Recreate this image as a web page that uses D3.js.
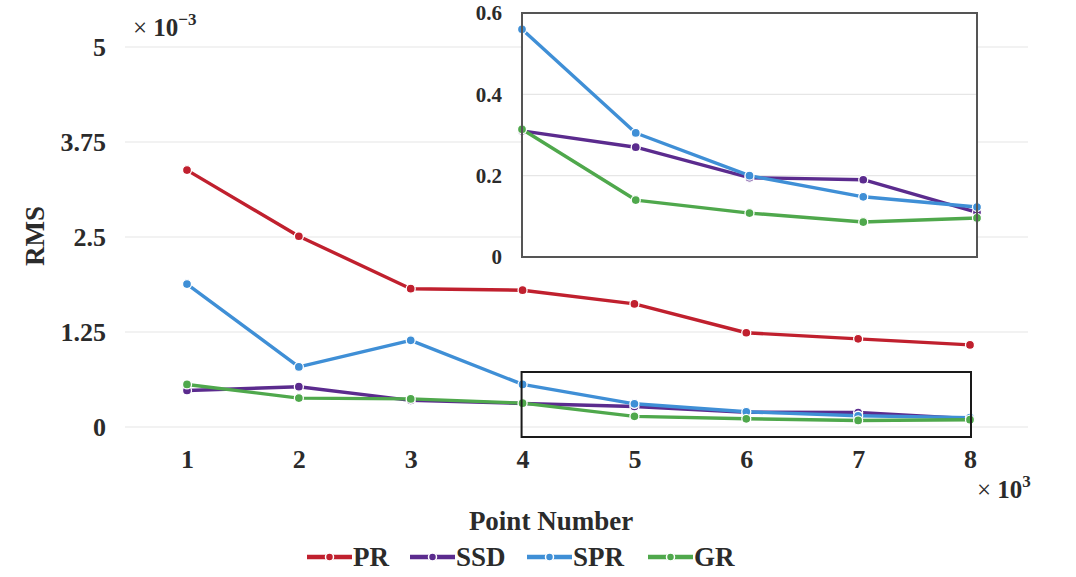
<!DOCTYPE html>
<html lang="en">
<head>
<meta charset="utf-8">
<title>RMS vs Point Number</title>
<script src="https://cdn.jsdelivr.net/npm/d3@7"></script>
<style>
  body { margin: 0; background: #fff; }
  text { font-family: "Liberation Serif", "Times New Roman", serif; font-weight: bold; fill: #2b2b2b; }
  .grid line { stroke: #e6e6e6; stroke-width: 1.2; }
</style>
</head>
<body>
<div id="chart"></div>
<script>
// values in units of 1e-3, point numbers in units of 1e3
var pointNumbers = [1, 2, 3, 4, 5, 6, 7, 8];
var prValues  = [3.38, 2.51, 1.82, 1.80, 1.62, 1.24, 1.16, 1.08];
var ssdValues = [0.48, 0.53, 0.35, 0.31, 0.27, 0.195, 0.19, 0.11];
var sprValues = [1.88, 0.79, 1.14, 0.56, 0.305, 0.20, 0.148, 0.123];
var grValues  = [0.56, 0.38, 0.37, 0.314, 0.14, 0.108, 0.086, 0.096];
var seriesNames = ["PR", "SSD", "SPR", "GR"];
var seriesColors = ["#c0202e", "#5b2b8e", "#3f8fd6", "#4fa84c"];
var yTicks = [0, 1.25, 2.5, 3.75, 5];
var insetYTicks = [0, 0.2, 0.4, 0.6];
var insetStart = 4;

var width = 1076, height = 577;

var series = seriesNames.map(function (name, i) {
  return { name: name, color: seriesColors[i], values: [prValues, ssdValues, sprValues, grValues][i] };
});

var svg = d3.select("#chart").append("svg")
  .attr("width", width)
  .attr("height", height);

var x = d3.scaleLinear().domain([1, 8]).range([187, 970]);
var y = d3.scaleLinear().domain([0, 5]).range([427, 47]);

// gridlines
svg.append("g").attr("class", "grid")
  .selectAll("line").data(yTicks).enter().append("line")
  .attr("x1", 125).attr("x2", 1028)
  .attr("y1", function (d) { return y(d); })
  .attr("y2", function (d) { return y(d); });

// y axis labels
var yAxis = d3.axisLeft(y).tickValues(yTicks).tickSize(0).tickPadding(0)
  .tickFormat(function (d) { return d3.format("")(d); });
svg.append("g").attr("transform", "translate(106,0)").call(yAxis)
  .call(function (g) { g.select(".domain").remove(); })
  .selectAll("text").style("font-size", "26px").attr("fill", "#2b2b2b");

// x axis labels
var xAxis = d3.axisBottom(x).tickValues(pointNumbers).tickSize(0).tickPadding(0)
  .tickFormat(d3.format("d"));
svg.append("g").attr("transform", "translate(0,450)").call(xAxis)
  .call(function (g) { g.select(".domain").remove(); })
  .selectAll("text").style("font-size", "26px").attr("fill", "#2b2b2b");

// exponent notes
var e1 = svg.append("text").attr("x", 133).attr("y", 36).style("font-size", "25px");
e1.append("tspan").style("font-weight", "normal").text("× ");
e1.append("tspan").text("10");
e1.append("tspan").attr("dy", -11).style("font-size", "17px").text("−3");

var e2 = svg.append("text").attr("x", 977).attr("y", 498).style("font-size", "25px");
e2.append("tspan").style("font-weight", "normal").text("× ");
e2.append("tspan").text("10");
e2.append("tspan").attr("dy", -11).style("font-size", "17px").text("3");

// axis titles
svg.append("text")
  .attr("transform", "translate(44,236) rotate(-90)")
  .attr("text-anchor", "middle")
  .style("font-size", "27px")
  .text("RMS");

svg.append("text")
  .attr("x", 551).attr("y", 530)
  .attr("text-anchor", "middle")
  .style("font-size", "27px")
  .text("Point Number");

function drawSeries(g, xs, ys, data, r) {
  var line = d3.line()
    .x(function (d) { return xs(d[0]); })
    .y(function (d) { return ys(d[1]); });
  data.forEach(function (s) {
    var pts = s.points;
    g.append("path")
      .datum(pts)
      .attr("fill", "none")
      .attr("stroke", s.color)
      .attr("stroke-width", 3.4)
      .attr("stroke-linejoin", "round")
      .attr("d", line);
    g.selectAll(null).data(pts).enter().append("circle")
      .attr("cx", function (d) { return xs(d[0]); })
      .attr("cy", function (d) { return ys(d[1]); })
      .attr("r", r)
      .attr("fill", s.color)
      .attr("stroke", "#fff")
      .attr("stroke-width", 1.3);
  });
}

// main lines
var mainData = series.map(function (s) {
  return { color: s.color, points: pointNumbers.map(function (p, i) { return [p, s.values[i]]; }) };
});
drawSeries(svg.append("g"), x, y, mainData, 4.5);

// zoom rectangle in main plot
svg.append("rect")
  .attr("x", x(insetStart) - 1).attr("y", 372)
  .attr("width", x(8) - x(insetStart) + 2).attr("height", 65)
  .attr("fill", "none").attr("stroke", "#1a1a1a").attr("stroke-width", 2);

// inset
var ix = d3.scaleLinear().domain([insetStart, 8]).range([522, 977]);
var iy = d3.scaleLinear().domain([0, 0.6]).range([257, 13]);
var inset = svg.append("g");
inset.append("rect")
  .attr("x", 522).attr("y", 13).attr("width", 455).attr("height", 244)
  .attr("fill", "#fff");
inset.append("g").attr("class", "grid")
  .selectAll("line").data([0.2, 0.4]).enter().append("line")
  .attr("x1", 522).attr("x2", 977)
  .attr("y1", function (d) { return iy(d); })
  .attr("y2", function (d) { return iy(d); });

var insetData = series.map(function (s) {
  return {
    color: s.color,
    points: pointNumbers.filter(function (p) { return p >= insetStart; })
      .map(function (p) { return [p, s.values[pointNumbers.indexOf(p)]]; })
  };
}).filter(function (s, i) { return seriesNames[i] !== "PR"; });
drawSeries(inset, ix, iy, insetData, 4.5);

inset.append("rect")
  .attr("x", 522).attr("y", 13).attr("width", 455).attr("height", 244)
  .attr("fill", "none").attr("stroke", "#555").attr("stroke-width", 2);

var iAxis = d3.axisLeft(iy).tickValues(insetYTicks).tickSize(0).tickPadding(0)
  .tickFormat(function (d) { return d === 0 ? "0" : d3.format(".1f")(d); });
inset.append("g").attr("transform", "translate(502,0)").call(iAxis)
  .call(function (g) { g.select(".domain").remove(); })
  .selectAll("text").style("font-size", "21px").attr("fill", "#2b2b2b");

// legend
var legendX = [307, 410, 527, 648];
var legend = svg.append("g").selectAll("g").data(series).enter().append("g")
  .attr("transform", function (d, i) { return "translate(" + legendX[i] + ",557)"; });
legend.append("line")
  .attr("x1", 0).attr("x2", 45).attr("y1", 0).attr("y2", 0)
  .attr("stroke", function (d) { return d.color; }).attr("stroke-width", 4.5);
legend.append("circle")
  .attr("cx", 22.5).attr("cy", 0).attr("r", 4)
  .attr("fill", function (d) { return d.color; })
  .attr("stroke", "#fff").attr("stroke-width", 1.5);
legend.append("text")
  .attr("x", 46).attr("y", 9)
  .style("font-size", "27px")
  .text(function (d) { return d.name; });
</script>
</body>
</html>
